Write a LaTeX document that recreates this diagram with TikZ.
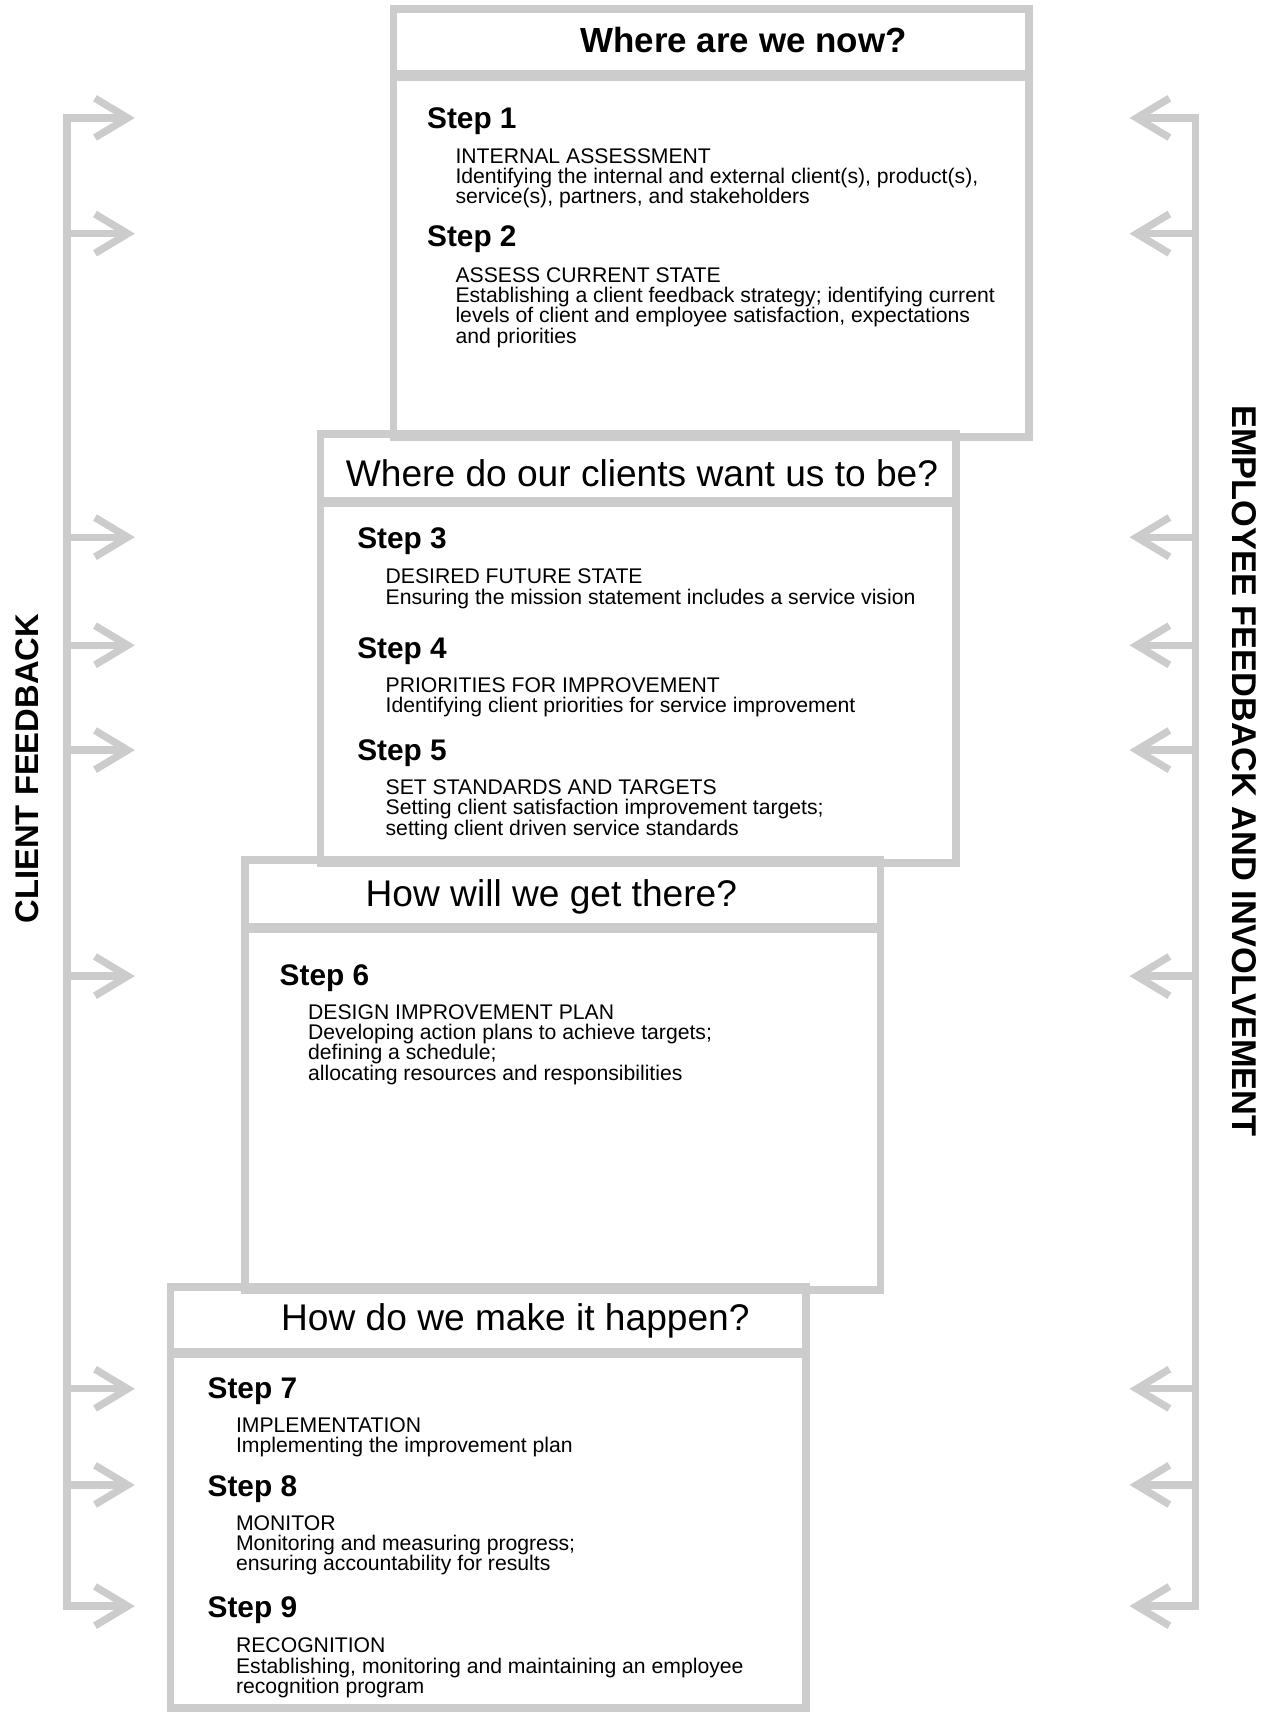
\documentclass[tikz,border=0pt]{standalone}
\usepackage{fontspec}
\setmainfont{Liberation Sans}
\usetikzlibrary{arrows.meta}
\definecolor{framegray}{HTML}{CCCCCC}
\newcommand{\desctext}[1]{\parbox[t]{600pt}{\raggedright #1}}
\begin{document}
\begin{tikzpicture}[x=1pt,y=-1pt,
  frame/.style={draw=framegray, line width=7pt, inner sep=0pt, outer sep=0pt, minimum width=582pt},
  titlereg/.style={anchor=base, inner sep=0pt, font=\fontsize{34}{40}\selectfont},
  titlebold/.style={anchor=base, inner sep=0pt, font=\bfseries\fontsize{32}{38}\selectfont},
  stepst/.style={anchor=base west, inner sep=0pt, font=\bfseries\fontsize{27.3}{32}\selectfont},
  descst/.style={anchor=base west, inner sep=0pt, font=\fontsize{19.4}{18.5}\selectfont},
  fbline/.style={draw=framegray, line width=6.7pt, line join=miter, line cap=butt},
  sidelabel/.style={inner sep=0pt, font=\bfseries\fontsize{30}{36}\selectfont},
  sidelabelwide/.style={inner sep=0pt, font=\bfseries\fontsize{31.5}{36}\selectfont},
  >={Straight Barb[length=30pt,width=36pt]}
]
\useasboundingbox (0,0) rectangle (1164,1568);

% ---------- boxes ----------
\node[frame, minimum height=61.75pt] (b1t) at (651.5,39.4) {};
\node[frame, minimum height=332.5pt] (b1b) at (651.5,234) {};
\node[frame, minimum height=63.5pt]  (b2t) at (584.5,429.5) {};
\node[frame, minimum height=331.5pt] (b2b) at (584.5,624.5) {};
\node[frame, minimum height=63.5pt]  (b3t) at (515.5,819.5) {};
\node[frame, minimum height=332.5pt] (b3b) at (515.5,1015) {};
\node[frame, minimum height=61.5pt]  (b4t) at (447,1209.5) {};
\node[frame, minimum height=326.75pt] (b4b) at (447,1401.1) {};

% ---------- titles ----------
\node[titlebold] (t1) at (681,48.5) {Where are we now?};
\node[titlereg]  (t2) at (588,446) {Where do our clients want us to be?};
\node[titlereg]  (t3) at (505,830) {How will we get there?};
\node[titlereg]  (t4) at (472,1219) {How do we make it happen?};

% ---------- steps ----------
\node[stepst] (s1) at (391,117.7) {Step 1};
\node[descst] (d1) at (417,149.8) {\desctext{INTERNAL ASSESSMENT\\Identifying the internal and external client(s), product(s),\\service(s), partners, and stakeholders}};
\node[stepst] (s2) at (391,225.7) {Step 2};
\node[descst] (d2) at (417,258.8) {\desctext{ASSESS CURRENT STATE\\Establishing a client feedback strategy; identifying current\\levels of client and employee satisfaction, expectations\\and priorities}};

\node[stepst] (s3) at (327,502.7) {Step 3};
\node[descst] (d3) at (353,534.8) {\desctext{DESIRED FUTURE STATE\\Ensuring the mission statement includes a service vision}};
\node[stepst] (s4) at (327,602.7) {Step 4};
\node[descst] (d4) at (353,633.8) {\desctext{PRIORITIES FOR IMPROVEMENT\\Identifying client priorities for service improvement}};
\node[stepst] (s5) at (327,696.7) {Step 5};
\node[descst] (d5) at (353,727.8) {\desctext{SET STANDARDS AND TARGETS\\Setting client satisfaction improvement targets;\\setting client driven service standards}};

\node[stepst] (s6) at (256,902.7) {Step 6};
\node[descst] (d6) at (282,933.8) {\desctext{DESIGN IMPROVEMENT PLAN\\Developing action plans to achieve targets;\\defining a schedule;\\allocating resources and responsibilities}};

\node[stepst] (s7) at (190,1280.7) {Step 7};
\node[descst] (d7) at (216,1311.8) {\desctext{IMPLEMENTATION\\Implementing the improvement plan}};
\node[stepst] (s8) at (190,1370.7) {Step 8};
\node[descst] (d8) at (216,1401.8) {\desctext{MONITOR\\Monitoring and measuring progress;\\ensuring accountability for results}};
\node[stepst] (s9) at (190,1481.7) {Step 9};
\node[descst] (d9) at (216,1513.8) {\desctext{RECOGNITION\\Establishing, monitoring and maintaining an employee\\recognition program}};

% ---------- feedback lines ----------
\foreach \i/\y in {1/108,2/214,3/492,4/591,5/687,6/894,7/1272,8/1360,9/1471}{
  \coordinate (lc\i) at (61.5,\y);
  \coordinate (la\i) at (123.5,\y);
  \coordinate (rc\i) at (1095,\y);
  \coordinate (ra\i) at (1034.5,\y);
}
\draw[fbline,<->] (la1) -- (lc1) -- (lc9) -- (la9);
\draw[fbline,<->] (ra1) -- (rc1) -- (rc9) -- (ra9);
\foreach \i in {2,...,8}{
  \draw[fbline,->] (lc\i) -- (la\i);
  \draw[fbline,->] (rc\i) -- (ra\i);
}

% ---------- side labels ----------
\node[sidelabel, rotate=90]  (cf) at (25,704) {CLIENT FEEDBACK};
\node[sidelabelwide, rotate=-90] (ef) at (1140,706) {EMPLOYEE FEEDBACK AND INVOLVEMENT};
\end{tikzpicture}
\end{document}
